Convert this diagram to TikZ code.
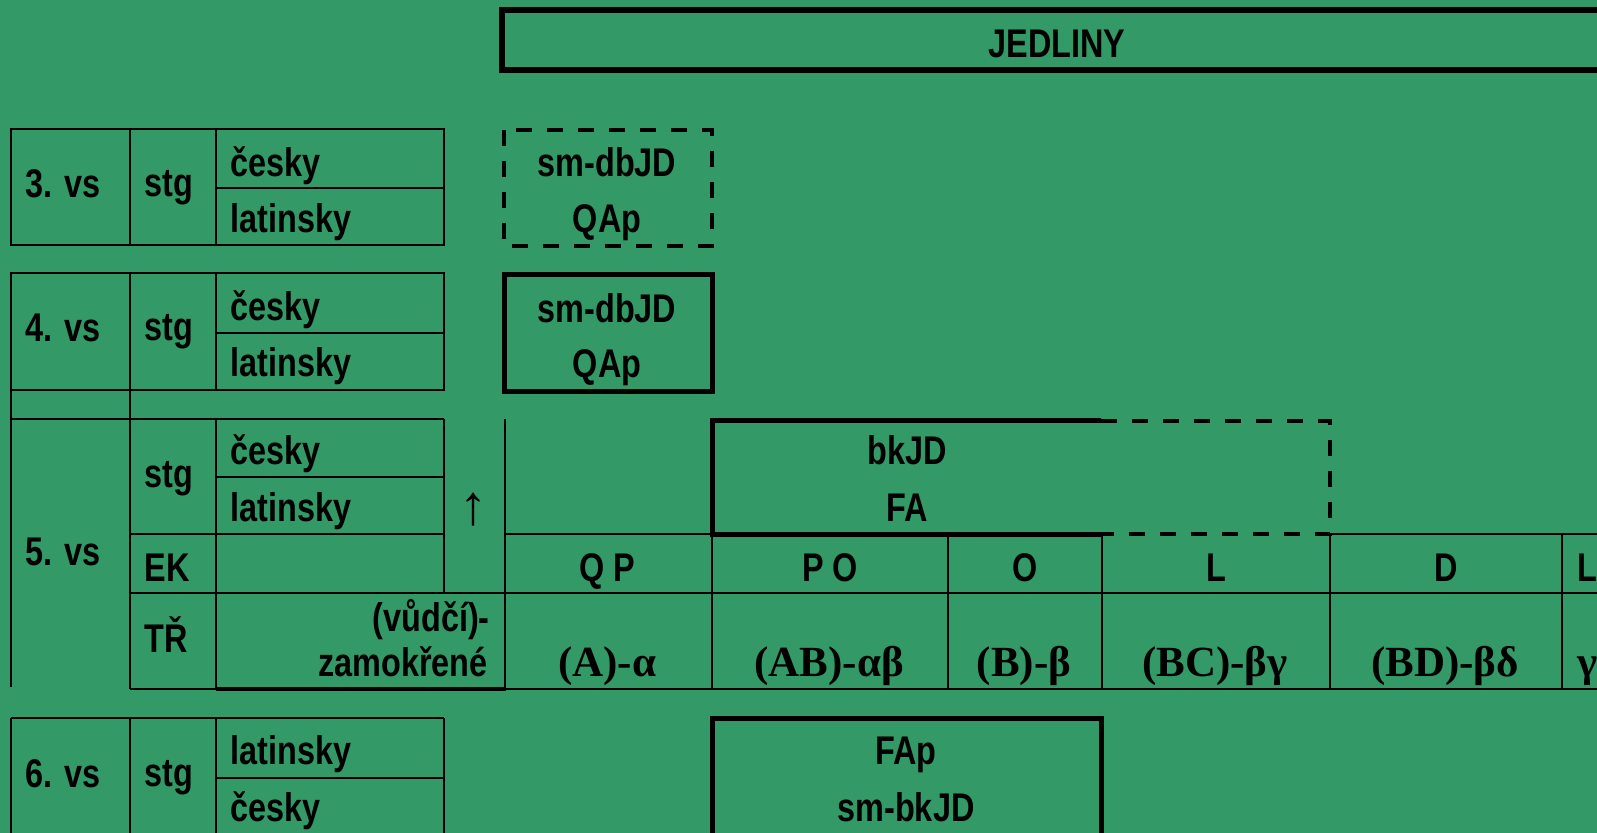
\documentclass[tikz,border=0pt]{standalone}
\usepackage{fontspec}
\newfontfamily\narrowfont{Liberation Sans}[FakeStretch=0.81]
\newfontfamily\serifgr{Liberation Serif}
\usepackage{tikz}
\usetikzlibrary{calc}
\definecolor{sheet}{RGB}{51,153,102}

\begin{document}
\begin{tikzpicture}[x=0.5pt, y=-0.5pt,
        gridline/.style={line width=1.1pt},
        heavy/.style={line width=2.5pt},
        dashline/.style={line width=2pt, dash pattern=on 8pt off 7.5pt},
        txt/.style={font={\narrowfont\bfseries\fontsize{20pt}{24pt}\selectfont}, anchor=base, inner sep=0pt},
        grk/.style={font={\serifgr\bfseries\fontsize{21.5pt}{26pt}\selectfont}, anchor=base, inner sep=0pt}]
        % Background
        \fill[sheet] (0,0) rectangle (1597,833);
        \clip (0,0) rectangle (1597,833);

        % Heading
        \draw[line width=3pt] (502,10) rectangle (1612,70);
        \node[txt] (jedliny) at (1057,58) {JEDLINY};

        % 3. vs
        \draw[gridline] (11,129) rectangle (444,245);
        \draw[gridline] (130,129) -- (130,245) (216,129) -- (216,245) (216,188) -- (444,188);
        \node[txt, anchor=base west] (vs3) at (25,198) {3. vs};
        \node[txt, anchor=base west] (stg3) at (144,197) {stg};
        \node[txt, anchor=base west] (cz3) at (230,177) {česky};
        \node[txt, anchor=base west] (lat3) at (230,233) {latinsky};
        \draw[dashline] (504,130) rectangle (712,246);
        \node[txt] (smdb3) at (607,177) {sm-dbJD};
        \node[txt] (qap3) at (607,233) {QAp};

        % 4. vs
        \draw[gridline] (11,273) rectangle (444,390);
        \draw[gridline] (130,273) -- (130,390) (216,273) -- (216,390) (216,333) -- (444,333);
        \node[txt, anchor=base west] (vs4) at (25,342) {4. vs};
        \node[txt, anchor=base west] (stg4) at (144,341) {stg};
        \node[txt, anchor=base west] (cz4) at (230,321) {česky};
        \node[txt, anchor=base west] (lat4) at (230,377) {latinsky};
        \draw[heavy] (504,275) rectangle (712,392);
        \node[txt] (smdb4) at (607,323) {sm-dbJD};
        \node[txt] (qap4) at (607,378) {QAp};

        % 5. vs with EK and TR rows
        \draw[gridline] (11,390) -- (11,687) (130,390) -- (130,689) (11,419) -- (444,419);
        \draw[gridline] (216,419) -- (216,689) (444,419) -- (444,593) (216,477) -- (444,477) (130,534) -- (444,534);
        \draw[gridline] (130,593) -- (1597,593) (130,689) -- (1597,689);
        \draw[line width=2pt] (216,689) -- (506,689);
        \draw[gridline] (505,419) -- (505,689) (505,534) -- (712,534) (1330,534) -- (1597,534);
        \draw[gridline] (712,534) -- (712,689) (948,534) -- (948,689) (1102,534) -- (1102,689)
            (1330,534) -- (1330,689) (1562,534) -- (1562,689);
        \node[txt, anchor=base west] (vs5) at (25,566) {5. vs};
        \node[txt, anchor=base west] (stg5) at (144,488) {stg};
        \node[txt, anchor=base west] (cz5) at (230,465) {česky};
        \node[txt, anchor=base west] (lat5) at (230,522) {latinsky};
        \node[txt, anchor=base west] (ek) at (144,582) {EK};
        \node[txt, anchor=base west] (tr) at (144,653) {TŘ};
        \node[txt, anchor=base east] (vudci) at (490,632) {(vůdčí)-};
        \node[txt, anchor=base east] (zamok) at (488,677) {zamokřené};
        \node[grk, font={\serifgr\fontsize{28pt}{30pt}\selectfont}, anchor=center] (up) at (473,510) {↑};

        % bkJD box
        \draw[heavy] (1101,421) -- (712,421) -- (712,535) -- (1101,535);
        \draw[dashline] (1101,421) -- (1330,421) -- (1330,534) -- (1101,534);
        \node[txt] (bkjd) at (907,465) {bkJD};
        \node[txt] (fa) at (907,522) {FA};

        % EK labels
        \node[txt] (qp) at (607,582) {Q P};
        \node[txt] (po) at (830,582) {P O};
        \node[txt] (o) at (1025,582) {O};
        \node[txt] (l) at (1216,582) {L};
        \node[txt] (d) at (1446,582) {D};
        \node[txt] (l2) at (1587,582) {L};

        % TR labels
        \node[grk] (a) at (607,677) {(A)-α};
        \node[grk] (ab) at (829,677) {(AB)-αβ};
        \node[grk] (b) at (1024,677) {(B)-β};
        \node[grk] (bc) at (1215,677) {(BC)-βγ};
        \node[grk] (bd) at (1445,677) {(BD)-βδ};
        \node[grk] (g) at (1588,677) {γ};

        % 6. vs
        \draw[gridline] (11,718) -- (444,718) (11,718) -- (11,840) (130,718) -- (130,840)
            (216,718) -- (216,840) (444,718) -- (444,840) (216,778) -- (444,778);
        \node[txt, anchor=base west] (vs6) at (25,788) {6. vs};
        \node[txt, anchor=base west] (stg6) at (144,787) {stg};
        \node[txt, anchor=base west] (lat6) at (230,765) {latinsky};
        \node[txt, anchor=base west] (cz6) at (230,822) {česky};
        \draw[heavy] (712,840) -- (712,719) -- (1101,719) -- (1101,840);
        \node[txt] (fap) at (906,765) {FAp};
        \node[txt] (smbk) at (906,822) {sm-bkJD};
    \end{tikzpicture}
\end{document}
